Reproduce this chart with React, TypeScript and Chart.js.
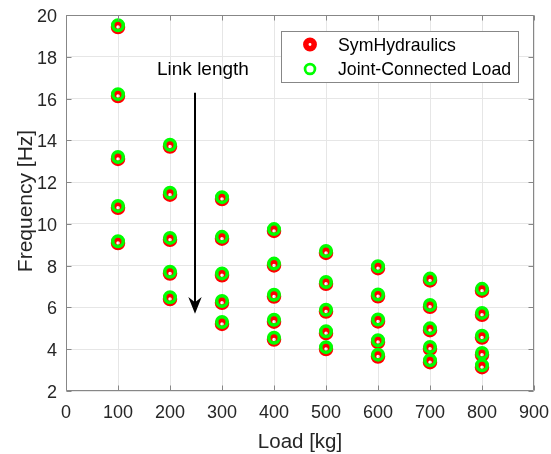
import React, { useEffect, useRef } from "react";
import { Chart, registerables } from "chart.js";

Chart.register(...registerables);

// ---- data ----
const loads = [100, 200, 300, 400, 500, 600, 700, 800];
const seriesNames = ["SymHydraulics", "Joint-Connected Load"];
// one inner list per load, five link lengths each (long -> short)
const symHydraulics = [
  [19.42, 16.12, 13.11, 10.77, 9.08],
  [13.7, 11.4, 9.24, 7.62, 6.4],
  [11.19, 9.29, 7.54, 6.22, 5.21],
  [9.66, 8.01, 6.52, 5.32, 4.46],
  [8.61, 7.13, 5.8, 4.77, 4.01],
  [7.88, 6.53, 5.33, 4.34, 3.65],
  [7.29, 6.03, 4.91, 4.02, 3.38],
  [6.8, 5.65, 4.56, 3.73, 3.14],
];
const jointConnectedLoad = [
  [19.51, 16.21, 13.2, 10.86, 9.17],
  [13.79, 11.49, 9.33, 7.71, 6.49],
  [11.28, 9.38, 7.63, 6.31, 5.3],
  [9.75, 8.1, 6.61, 5.41, 4.55],
  [8.7, 7.22, 5.89, 4.86, 4.1],
  [7.97, 6.62, 5.42, 4.43, 3.74],
  [7.38, 6.12, 5.0, 4.11, 3.47],
  [6.89, 5.74, 4.65, 3.82, 3.23],
];
const xTicks = [0, 100, 200, 300, 400, 500, 600, 700, 800, 900];
const yTicks = [2, 4, 6, 8, 10, 12, 14, 16, 18, 20];
const xTitle = "Load [kg]";
const yTitle = "Frequency [Hz]";
const annotationText = "Link length";

// annotation placement (data coordinates)
const ANNOT = { textX: 175, textY: 17.12, arrowX: 248, arrowTop: 16.28, arrowTip: 5.7 };

const FONT = "'Liberation Sans', Arial, Helvetica, sans-serif";
const AXIS_COLOR = "#878787";
const TEXT_COLOR = "#262626";
const RED = "#ff0000";
const GREEN = "#00ff00";
const RED_STYLE = { r: 4.5, w: 5.5 };
const GREEN_STYLE = { r: 5.25, w: 3.5 };

const toPoints = (vals: number[][]) =>
  loads.flatMap((x, i) => vals[i].map((y) => ({ x, y })));

const ring = (ctx: CanvasRenderingContext2D, x: number, y: number, r: number, w: number, color: string) => {
  ctx.save();
  ctx.beginPath();
  ctx.arc(x, y, r, 0, Math.PI * 2);
  ctx.lineWidth = w;
  ctx.strokeStyle = color;
  ctx.stroke();
  ctx.restore();
};

const framePlugin = {
  id: "matlabFrame",
  afterDraw(chart: any) {
    const { ctx, chartArea: a, scales } = chart;
    const xs = scales.x;
    const ys = scales.y;
    ctx.save();
    // box
    ctx.strokeStyle = AXIS_COLOR;
    ctx.lineWidth = 1;
    const L = Math.round(a.left) + 0.5;
    const R = Math.round(a.right) - 0.5;
    const T = Math.round(a.top) + 0.5;
    const B = Math.round(a.bottom) - 0.5;
    ctx.beginPath();
    ctx.rect(L, T, R - L, B - T);
    ctx.stroke();
    // inward ticks
    const tl = 5;
    ctx.beginPath();
    xTicks.forEach((v) => {
      const px = Math.round(xs.getPixelForValue(v)) + 0.5;
      ctx.moveTo(px, B);
      ctx.lineTo(px, B - tl);
      ctx.moveTo(px, T);
      ctx.lineTo(px, T + tl);
    });
    yTicks.forEach((v) => {
      const py = Math.round(ys.getPixelForValue(v)) + 0.5;
      ctx.moveTo(L, py);
      ctx.lineTo(L + tl, py);
      ctx.moveTo(R, py);
      ctx.lineTo(R - tl, py);
    });
    ctx.stroke();

    // axis titles
    ctx.fillStyle = TEXT_COLOR;
    ctx.font = `20.5px ${FONT}`;
    ctx.textAlign = "center";
    ctx.textBaseline = "alphabetic";
    ctx.fillText(xTitle, (a.left + a.right) / 2, a.bottom + 56.5);
    ctx.save();
    ctx.translate(31.7, (a.top + a.bottom) / 2 - 2);
    ctx.rotate(-Math.PI / 2);
    ctx.font = `21px ${FONT}`;
    ctx.fillText(yTitle, 0, 0);
    ctx.restore();

    // annotation text and arrow
    ctx.fillStyle = "#000";
    ctx.font = `19px ${FONT}`;
    ctx.textAlign = "left";
    ctx.fillText(annotationText, xs.getPixelForValue(ANNOT.textX), ys.getPixelForValue(ANNOT.textY));
    const ax = Math.round(xs.getPixelForValue(ANNOT.arrowX));
    const aTop = ys.getPixelForValue(ANNOT.arrowTop);
    const aTip = ys.getPixelForValue(ANNOT.arrowTip);
    ctx.strokeStyle = "#000";
    ctx.lineWidth = 2;
    ctx.beginPath();
    ctx.moveTo(ax, aTop);
    ctx.lineTo(ax, aTip - 10);
    ctx.stroke();
    ctx.fillStyle = "#000";
    ctx.beginPath();
    ctx.moveTo(ax, aTip);
    ctx.lineTo(ax - 6.7, aTip - 16.6);
    ctx.lineTo(ax, aTip - 11.5);
    ctx.lineTo(ax + 6.7, aTip - 16.6);
    ctx.closePath();
    ctx.fill();

    // legend
    const bx = 281.5, by = 31.5, bw = 237, bh = 51;
    ctx.fillStyle = "#fff";
    ctx.fillRect(bx, by, bw, bh);
    ctx.strokeStyle = AXIS_COLOR;
    ctx.lineWidth = 1;
    ctx.strokeRect(bx, by, bw, bh);
    ring(ctx, 310, 44.5, RED_STYLE.r - 0.3, RED_STYLE.w, RED);
    ring(ctx, 310, 69, GREEN_STYLE.r - 0.3, GREEN_STYLE.w - 0.8, GREEN);
    ctx.fillStyle = "#000";
    ctx.font = `17.7px ${FONT}`;
    ctx.textAlign = "left";
    ctx.textBaseline = "middle";
    ctx.fillText(seriesNames[0], 338, 46);
    ctx.fillText(seriesNames[1], 338, 70);
    ctx.restore();
  },
};

export default function App() {
  const ref = useRef<HTMLCanvasElement | null>(null);
  useEffect(() => {
    if (!ref.current) return;
    const chart = new Chart(ref.current, {
      type: "scatter",
      data: {
        datasets: [
          {
            label: seriesNames[0],
            data: toPoints(symHydraulics),
            pointRadius: RED_STYLE.r,
            pointBorderWidth: RED_STYLE.w,
            pointBorderColor: RED,
            pointBackgroundColor: "rgba(0,0,0,0)",
            borderColor: RED,
            backgroundColor: "rgba(0,0,0,0)",
            order: 2,
          },
          {
            label: seriesNames[1],
            data: toPoints(jointConnectedLoad),
            pointRadius: GREEN_STYLE.r,
            pointBorderWidth: GREEN_STYLE.w,
            pointBorderColor: GREEN,
            pointBackgroundColor: "rgba(0,0,0,0)",
            borderColor: GREEN,
            backgroundColor: "rgba(0,0,0,0)",
            order: 1,
          },
        ],
      },
      options: {
        responsive: false,
        animation: false,
        events: [],
        layout: { padding: { top: 15, right: 17, left: 0, bottom: 0 } },
        plugins: { legend: { display: false }, tooltip: { enabled: false } },
        scales: {
          x: {
            type: "linear",
            min: 0,
            max: 900,
            afterBuildTicks: (s: any) => {
              s.ticks = xTicks.map((v) => ({ value: v }));
            },
            afterFit: (s: any) => {
              s.height = 63;
              s.paddingLeft = 0;
              s.paddingRight = 0;
            },
            ticks: {
              color: TEXT_COLOR,
              font: { family: FONT, size: 18 },
              padding: 11,
              maxRotation: 0,
              autoSkip: false,
            },
            grid: { color: "#e6e6e6", drawTicks: false, lineWidth: 1 },
            border: { display: false },
          },
          y: {
            type: "linear",
            min: 2,
            max: 20,
            afterBuildTicks: (s: any) => {
              s.ticks = yTicks.map((v) => ({ value: v }));
            },
            afterFit: (s: any) => {
              s.width = 66;
              s.paddingTop = 0;
              s.paddingBottom = 0;
            },
            ticks: {
              color: TEXT_COLOR,
              font: { family: FONT, size: 18 },
              padding: 9,
              labelOffset: 2,
              autoSkip: false,
            },
            grid: { color: "#e6e6e6", drawTicks: false, lineWidth: 1 },
            border: { display: false },
          },
        },
      },
      plugins: [framePlugin],
    } as any);
    return () => chart.destroy();
  }, []);
  return (
    <div style={{ position: "fixed", left: 0, top: 0, width: 551, height: 454, background: "#fff" }}>
      <canvas ref={ref} width={551} height={454} />
    </div>
  );
}
